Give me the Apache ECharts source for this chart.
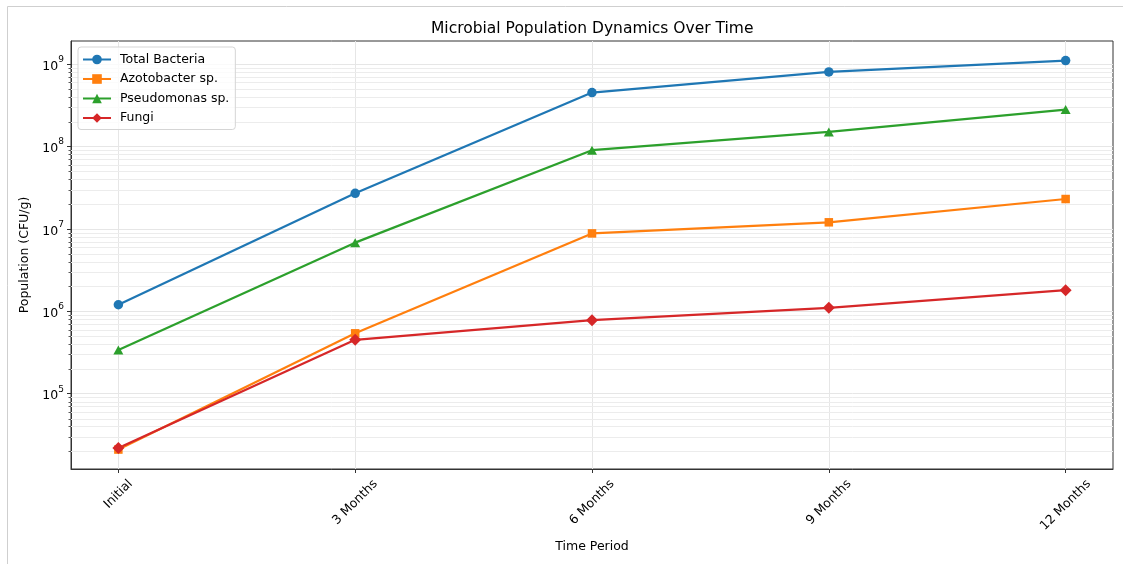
<!DOCTYPE html>
<html><head><meta charset="utf-8">
<script src="https://cdn.jsdelivr.net/npm/echarts@6/dist/echarts.min.js"></script>
<style>html,body{margin:0;padding:0;background:#fff}#c{width:1123px;height:564px}</style>
</head><body><div id="c"></div>
<script>
// ---- data ----
const categories = ['Initial', '3 Months', '6 Months', '9 Months', '12 Months'];
const totalBacteria = [1.2e6, 2.7e7, 4.5e8, 8.0e8, 1.1e9];
const azotobacter = [2.1e4, 5.4e5, 8.8e6, 1.2e7, 2.3e7];
const pseudomonas = [3.4e5, 6.8e6, 9.0e7, 1.5e8, 2.8e8];
const fungi = [2.2e4, 4.5e5, 7.8e5, 1.1e6, 1.8e6];
const seriesNames = ['Total Bacteria', 'Azotobacter sp.', 'Pseudomonas sp.', 'Fungi'];
const yTickValues = [1e5, 1e6, 1e7, 1e8, 1e9];
const xTickValues = [0, 1, 2, 3, 4];
const yMin = 12200, yMax = 1.9e9;

const FONT = 'DejaVu Sans';
const FS = 12.5;
const colors = ['#1f77b4', '#ff7f0e', '#2ca02c', '#d62728'];

// minor log ticks (axis decoration)
const minorVals = [];
for (let e = 4; e <= 9; e++) {
  for (let m = 2; m <= 9; m++) {
    const v = m * Math.pow(10, e);
    if (v > yMin && v < yMax) minorVals.push(v);
  }
}

// rotated x labels centred under tick (matplotlib style)
const mctx = document.createElement('canvas').getContext('2d');
mctx.font = FS + 'px "' + FONT + '"';
const xRich = {};
categories.forEach((c, i) => {
  const w = mctx.measureText(c).width;
  const h = 14;
  const H = (w + h) * Math.SQRT1_2;
  const d = 8 + H / 2;
  const p = Math.SQRT2 * d;
  xRich['c' + i] = { fontFamily: FONT, fontSize: FS, color: '#000', padding: [p, p, 0, 0] };
});

const chart = echarts.init(document.getElementById('c'), null, { renderer: 'canvas' });

function lineSeries(name, arr, color, symbol, size) {
  return {
    name: name, type: 'line', z: 3,
    data: arr.map((v, i) => [i, v]),
    symbol: symbol, symbolSize: size, showSymbol: true,
    lineStyle: { color: color, width: 2.2 },
    itemStyle: { color: color, borderWidth: 0 },
    emphasis: { disabled: true }
  };
}

const option = {
  animation: false,
  backgroundColor: '#fff',
  title: {
    text: 'Microbial Population Dynamics Over Time',
    left: 431, top: 21, padding: 0,
    textStyle: { fontFamily: FONT, fontSize: 15.5, fontWeight: 'normal', color: '#000' }
  },
  legend: {
    data: seriesNames,
    orient: 'vertical', left: 78, top: 47,
    padding: [6, 6, 5, 4],
    itemWidth: 28, itemHeight: 12, itemGap: 6.5,
    backgroundColor: 'rgba(255,255,255,0.8)',
    borderColor: '#d5d5d5', borderWidth: 1, borderRadius: 3,
    textStyle: { fontFamily: FONT, fontSize: FS, color: '#000', padding: [0, 0, 0, 4] }
  },
  grid: {
    left: 71, right: 10, top: 41, bottom: 95,
    show: true, borderColor: '#333', borderWidth: 1, backgroundColor: 'transparent',
    containLabel: false, outerBoundsMode: 'none'
  },
  xAxis: {
    type: 'value', min: -0.2, max: 4.2,
    axisLine: { show: true, onZero: false, lineStyle: { color: '#333', width: 1 } },
    axisTick: { show: true, customValues: xTickValues, length: 4, lineStyle: { color: '#333' } },
    axisLabel: {
      customValues: xTickValues, rotate: 45, align: 'center', verticalAlign: 'middle', margin: 0,
      formatter: v => { const i = Math.round(v); return '{c' + i + '|' + categories[i] + '}'; },
      rich: xRich
    },
    splitLine: { show: true, lineStyle: { color: '#e6e6e6', width: 1 } },
    name: 'Time Period', nameLocation: 'middle', nameGap: 70,
    nameTextStyle: { fontFamily: FONT, fontSize: FS, color: '#000' }
  },
  yAxis: {
    type: 'log', logBase: 10, min: yMin, max: yMax,
    axisLine: { show: true, onZero: false, lineStyle: { color: '#333', width: 1 } },
    axisTick: { show: true, customValues: yTickValues, length: 4, lineStyle: { color: '#333' } },
    axisLabel: {
      customValues: yTickValues, margin: 7,
      formatter: v => {
        const lg = Math.log10(v);
        const e = Math.round(lg);
        if (Math.abs(lg - e) > 0.01) return '';
        return '{b|10}{s|' + e + '}';
      },
      rich: {
        b: { fontFamily: FONT, fontSize: FS, color: '#000', lineHeight: 18, verticalAlign: 'bottom' },
        s: { fontFamily: FONT, fontSize: 9, color: '#000', lineHeight: 10, verticalAlign: 'top' }
      }
    },
    splitLine: { show: true, lineStyle: { color: '#e6e6e6', width: 1 } },
    name: 'Population (CFU/g)', nameLocation: 'middle', nameGap: 37,
    nameTextStyle: { fontFamily: FONT, fontSize: FS, color: '#000' }
  },
  graphic: [
    { type: 'line', shape: { x1: 7.5, y1: 6.5, x2: 1123, y2: 6.5 }, style: { stroke: '#cfcfcf', lineWidth: 1 }, silent: true },
    { type: 'line', shape: { x1: 7.5, y1: 6.5, x2: 7.5, y2: 564 }, style: { stroke: '#cfcfcf', lineWidth: 1 }, silent: true }
  ],
  series: [
    {
      type: 'custom', silent: true, z: 1, clip: false,
      data: minorVals.map(v => [0, v]),
      renderItem: (params, api) => {
        const y = Math.round(api.coord([0, api.value(1)])[1]) + 0.5;
        const cs = params.coordSys;
        return {
          type: 'group', children: [
            { type: 'line', shape: { x1: cs.x, y1: y, x2: cs.x + cs.width, y2: y }, style: { stroke: '#ececec', lineWidth: 1 } },
            { type: 'line', shape: { x1: cs.x - 2.5, y1: y, x2: cs.x, y2: y }, style: { stroke: '#333', lineWidth: 0.8 } }
          ]
        };
      }
    },
    lineSeries(seriesNames[0], totalBacteria, colors[0], 'circle', 9.5),
    lineSeries(seriesNames[1], azotobacter, colors[1], 'rect', 8.5),
    lineSeries(seriesNames[2], pseudomonas, colors[2], 'triangle', [10, 9]),
    lineSeries(seriesNames[3], fungi, colors[3], 'diamond', 12)
  ]
};
chart.setOption(option);
</script>
</body></html>
